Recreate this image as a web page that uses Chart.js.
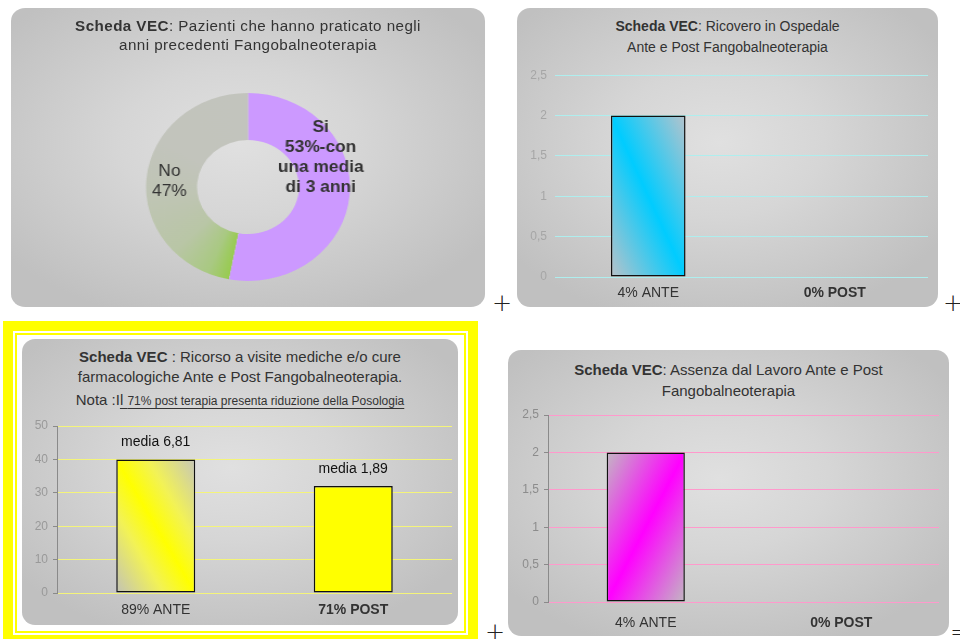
<!DOCTYPE html>
<html>
<head>
<meta charset="utf-8">
<script src="https://cdn.jsdelivr.net/npm/chart.js"></script>
<style>
body{margin:0;width:960px;height:639px;background:#fff;position:relative;overflow:hidden;font-family:"Liberation Sans",Arial,sans-serif;color:#333}
.abs{position:absolute}
.panel{position:absolute;border-radius:13px;background:radial-gradient(ellipse 62% 62% at 48% 45%,#e0e0e0 0%,#d6d6d6 40%,#c0c0c0 100%)}
.title{position:absolute;left:0;right:0;text-align:center;color:#333;white-space:nowrap}
.plus{position:absolute;font-size:24px;line-height:24px;color:#222;font-family:"DejaVu Sans",sans-serif;font-weight:200}
</style>
</head>
<body>

<!-- pannello 1: ciambella (stirata in orizzontale come l'originale) -->
<div class="panel" style="left:11px;top:8px;width:437px;height:299px;transform:scaleX(1.0847);transform-origin:0 0">
  <div class="title" style="top:9px;font-size:14px;line-height:19px;letter-spacing:0.4px"><b>Scheda VEC</b>: Pazienti che hanno praticato negli<br>anni precedenti Fangobalneoterapia</div>
  <div class="abs" style="left:0;top:85px;width:437px;height:188px"><canvas id="pieVec"></canvas></div>
</div>

<!-- pannello 2: ricovero -->
<div class="panel" style="left:517px;top:8px;width:421px;height:299px">
  <div class="title" style="top:8px;font-size:14px;line-height:21px"><b>Scheda VEC</b>: Ricovero in Ospedale<br>Ante e Post Fangobalneoterapia</div>
  <div class="abs" style="left:0;top:52px;width:421px;height:245px"><canvas id="relRicovero"></canvas></div>
</div>

<!-- pannello 3: visite mediche, cornice gialla -->
<div class="abs" style="left:3px;top:321px;width:475px;height:318px;background:#ff0"></div>
<div class="abs" style="left:13px;top:331px;width:455px;height:304px;background:#fff"></div>
<div class="abs" style="left:15px;top:333px;width:451px;height:300px;border:2px solid #ff0;box-sizing:border-box"></div>
<div class="panel" style="left:22px;top:339px;width:436px;height:286px">
  <div class="title" style="top:8px;font-size:15px;line-height:20px"><b>Scheda VEC</b> : Ricorso a visite mediche e/o cure<br>farmacologiche Ante e Post Fangobalneoterapia.</div>
  <div class="title" style="top:51px;font-size:15px;line-height:20px">Nota :I<span style="text-decoration:underline;text-underline-offset:3px">l <span style="font-size:12px">71% post terapia presenta riduzione della Posologia </span></span></div>
  <div class="abs" style="left:0;top:71px;width:436px;height:212px"><canvas id="relVisite"></canvas></div>
</div>

<!-- pannello 4: assenza dal lavoro -->
<div class="panel" style="left:508px;top:350px;width:441px;height:286px">
  <div class="title" style="top:9px;font-size:15px;line-height:21px"><b>Scheda VEC</b>: Assenza dal Lavoro Ante e Post<br>Fangobalneoterapia</div>
  <div class="abs" style="left:0;top:50px;width:441px;height:233px"><canvas id="relAssenza"></canvas></div>
</div>

<div class="plus" style="left:492px;top:291px">+</div>
<div class="plus" style="left:943px;top:291px">+</div>
<div class="plus" style="left:485px;top:620px">+</div>
<div class="plus" style="left:950px;top:620px">=</div>

<script>
// dati
var pieLabels = ["Si", "No"]
var pieValues = [53, 47]
var pieText = [["Si", "53%-con", "una media", "di 3 anni"], ["No", "47%"]]

var ricLabels = ["4% ANTE", "0% POST"]
var ricValues = [2, 0]

var visLabels = ["89% ANTE", "71% POST"]
var visValues = [40, 32]
var visMedia = ["media 6,81", "media 1,89"]

var assLabels = ["4% ANTE", "0% POST"]
var assValues = [2, 0]

Chart.defaults.font.family = '"Liberation Sans", Arial, sans-serif'

// posizione delle etichette della ciambella (angolo dall'alto, fattore raggio)
var pieLabelAngle = [66, 274]
var pieLabelDist = [1.04, 1.03]

//DEGRADE DIAGONALE DELLE BARRE (striscia da angolo ad angolo)
function stripe(ctx, l, t, r, b, f){
  var w = r - l, h = b - t, cx = (l + r) / 2, cy = (t + b) / 2
  if (![w, h, cx, cy].every(isFinite) || w <= 0 || h <= 0) return f.stops[2][1]
  var k = w * h / (w * w + h * h)
  var vx = h, vy = f.down ? -w : w
  var g = ctx.createLinearGradient(cx - vx * k, cy - vy * k, cx + vx * k, cy + vy * k)
  f.stops.forEach(function(s){ g.addColorStop(s[0], s[1]) })
  return g
}

var cyanFill = {down: true, stops: [[0, "#b9c2c9"], [0.5, "#00ccff"], [1, "#b6c3cc"]]}
var yellowFill = {down: true, stops: [[0, "#c2c2b6"], [0.3, "#f2f256"], [0.5, "#ffff00"], [0.7, "#f2f256"], [1, "#c6c6b8"]]}
var pinkFill = {down: false, stops: [[0, "#c2b8c2"], [0.5, "#ff00ff"], [1, "#c2b8c2"]]}
var solidYellow = {solid: "#ffff00"}

function barChart(id, labels, values, fills, st){
  return new Chart(document.getElementById(id), {
    type: "bar",
    data: {
      labels: labels,
      datasets: [{
        data: values,
        barPercentage: 0.4,
        categoryPercentage: 1,
        borderColor: "#111",
        borderWidth: function(c){ return c.raw ? 1.5 : 0 },
        borderSkipped: false,
        backgroundColor: function(c){
          var f = fills[c.dataIndex], ch = c.chart
          var xs = ch.scales.x, ys = ch.scales.y
          if (f.solid || !xs || !ys || !c.raw) return f.solid || "#ccc"
          var cx = xs.getPixelForValue(c.dataIndex)
          var hw = xs.width / labels.length * 0.4 / 2
          return stripe(ch.ctx, cx - hw, ys.getPixelForValue(c.raw), cx + hw, ys.getPixelForValue(0), f)
        }
      }]
    },
    options: {
      responsive: true,
      maintainAspectRatio: false,
      animation: false,
      events: [],
      layout: {padding: {left: 0, right: st.padRight, top: st.padTop, bottom: 0}},
      plugins: {legend: {display: false}, tooltip: {enabled: false}},
      scales: {
        y: {
          min: 0, max: st.yMax,
          afterFit: function(s){ s.width = st.yWidth },
          ticks: {
            stepSize: st.yStep, color: st.tickColor, font: {size: 12}, padding: st.axisLine ? 5 : 8,
            callback: function(v){ return String(v).replace(".", ",") }
          },
          grid: {color: st.grid, lineWidth: 1, drawTicks: st.axisLine, tickLength: 4, tickColor: "#8a8a8a"},
          border: {display: st.axisLine, color: "#8a8a8a"}
        },
        x: {
          afterFit: function(s){ s.height = st.xHeight },
          ticks: {
            color: "#333", padding: st.xPad,
            font: function(c){ return {size: 14, weight: c.index === 1 ? "bold" : "normal"} }
          },
          grid: {display: false, drawTicks: false},
          border: {display: false}
        }
      }
    },
    plugins: st.plugins || []
  })
}

//GRAFICO 1 - CIAMBELLA
new Chart(document.getElementById("pieVec"), {
  type: "doughnut",
  data: {
    labels: pieLabels,
    datasets: [{
      data: pieValues,
      borderWidth: 0,
      backgroundColor: function(c){
        if (c.dataIndex === 0) return "#cc99ff"
        var ch = c.chart, a = ch.chartArea
        if (!a) return "#c3c3c0"
        var ang = (-90 + 360 * pieValues[0] / 100) * Math.PI / 180
        var g = ch.ctx.createConicGradient(ang, (a.left + a.right) / 2, (a.top + a.bottom) / 2)
        g.addColorStop(0, "#98cb50")
        g.addColorStop(0.035, "#a9c982")
        g.addColorStop(0.1, "#b9c6a6")
        g.addColorStop(0.2, "#bfc5b4")
        g.addColorStop(0.3, "#c2c4bc")
        g.addColorStop(1, "#c4c4c1")
        return g
      }
    }]
  },
  options: {
    responsive: true,
    maintainAspectRatio: false,
    animation: false,
    events: [],
    cutout: "50%",
    plugins: {legend: {display: false}, tooltip: {enabled: false}}
  },
  plugins: [{
    id: "pieText",
    afterDatasetsDraw: function(chart){
      var ctx = chart.ctx
      chart.getDatasetMeta(0).data.forEach(function(arc, i){
        var d = (arc.outerRadius + arc.innerRadius) / 2 * pieLabelDist[i]
        var a = pieLabelAngle[i] * Math.PI / 180
        var x = arc.x + d * Math.sin(a), y = arc.y - d * Math.cos(a)
        var lines = pieText[i]
        ctx.save()
        ctx.font = (i === 0 ? "bold " : "") + '16px "Liberation Sans", Arial, sans-serif'
        ctx.fillStyle = "#333"
        ctx.textAlign = "center"
        ctx.textBaseline = "middle"
        lines.forEach(function(s, k){ ctx.fillText(s, x, y + (k - (lines.length - 1) / 2) * 20) })
        ctx.restore()
      })
    }
  }]
})

//GRAFICO 2 - RICOVERO
barChart("relRicovero", ricLabels, ricValues, [cyanFill, cyanFill], {
  yMax: 2.5, yStep: 0.5, grid: "#aeeeee", axisLine: false, tickColor: "#a6a6a6",
  yWidth: 38, xHeight: 28, padRight: 10, padTop: 14, xPad: 8
})

//GRAFICO 3 - VISITE MEDICHE
barChart("relVisite", visLabels, visValues, [yellowFill, solidYellow], {
  yMax: 50, yStep: 10, grid: "#f4f47a", axisLine: true, tickColor: "#999",
  yWidth: 35, xHeight: 29, padRight: 6, padTop: 16, xPad: 9,
  plugins: [{
    id: "media",
    afterDatasetsDraw: function(chart){
      var ctx = chart.ctx
      chart.getDatasetMeta(0).data.forEach(function(bar, i){
        ctx.save()
        ctx.font = '14px "Liberation Sans", Arial, sans-serif'
        ctx.fillStyle = "#111"
        ctx.textAlign = "center"
        ctx.textBaseline = "middle"
        ctx.fillText(visMedia[i], bar.x, bar.y - 17)
        ctx.restore()
      })
    }
  }]
})

//GRAFICO 4 - ASSENZA DAL LAVORO
barChart("relAssenza", assLabels, assValues, [pinkFill, pinkFill], {
  yMax: 2.5, yStep: 0.5, grid: "#ff99cc", axisLine: true, tickColor: "#8c8c8c",
  yWidth: 40, xHeight: 31, padRight: 10, padTop: 15, xPad: 13
})
</script>
</body>
</html>
